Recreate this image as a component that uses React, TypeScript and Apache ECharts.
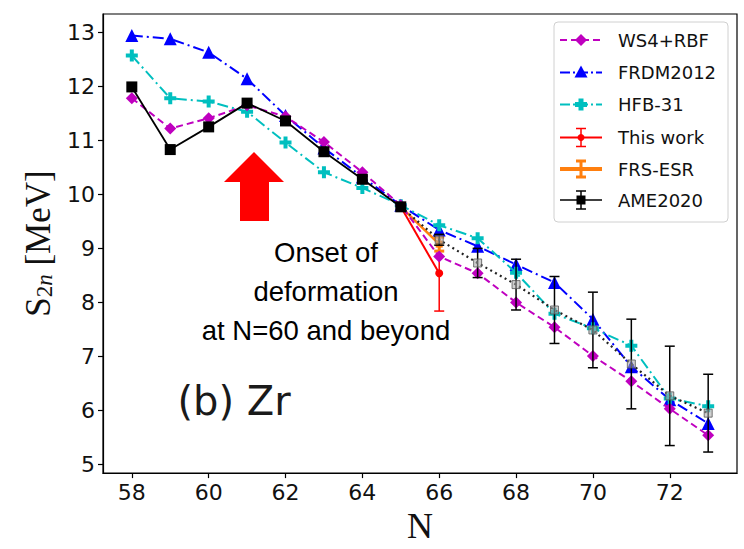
import React, { useEffect, useRef } from "react";
import * as echarts from "echarts";

// Neutron number
const N = [58, 59, 60, 61, 62, 63, 64, 65, 66, 67, 68, 69, 70, 71, 72, 73];
// Theory predictions (MeV)
const ws4 = [11.78, 11.22, 11.41, 11.65, 11.44, 10.97, 10.41, 9.8, 8.85, 8.54, 8.0, 7.54, 7.01, 6.54, 6.03, 5.54];
const frdm = [12.94, 12.88, 12.63, 12.14, 11.46, 10.86, 10.32, 9.8, 9.34, 9.04, 8.7, 8.37, 7.69, 6.81, 6.2, 5.76];
const hfb = [12.57, 11.78, 11.72, 11.53, 10.96, 10.41, 10.12, 9.8, 9.43, 9.19, 8.55, 7.79, 7.52, 7.2, 6.22, 6.08];
// AME2020 measured
const ameN = [58, 59, 60, 61, 62, 63, 64, 65];
const ame = [11.99, 10.83, 11.25, 11.69, 11.36, 10.79, 10.28, 9.77];
// AME2020 extrapolated
const ameExN = [65, 66, 67, 68, 69, 70, 71, 72, 73];
const ameEx = [9.77, 9.16, 8.73, 8.33, 7.86, 7.49, 6.86, 6.27, 5.95];
const ameExErr = [0, 0.1, 0.27, 0.47, 0.62, 0.7, 0.83, 0.92, 0.72];
// This work
const thisN = [65, 66];
const thisVal = [9.77, 8.54];
const thisErr = [0, 0.7];
// FRS-ESR
const frsN = [65, 66];
const frsVal = [9.77, 9.08];
const frsErr = [0, 0.13];

const xTicks = [58, 60, 62, 64, 66, 68, 70, 72];
const yTicks = [5, 6, 7, 8, 9, 10, 11, 12, 13];

const MAG = "#bf00bf";
const BLUE = "#0000ff";
const CYAN = "#00bfbf";
const RED = "#ff0000";
const ORANGE = "#ff7f0e";
const PLUS = "path://M1,0H2V1H3V2H2V3H1V2H0V1H1Z";

function pairs(xs: number[], ys: number[]) {
  return xs.map((x, i) => [x, ys[i]]);
}

function errSeries(xs: number[], ys: number[], es: number[], color: string, lw: number, capW: number, z: number) {
  return {
    type: "custom",
    z,
    silent: true,
    data: xs.map((x, i) => [x, ys[i], es[i]]),
    encode: { x: 0, y: 1 },
    renderItem: (params: any, api: any) => {
      const x = api.value(0);
      const y = api.value(1);
      const e = api.value(2);
      if (!e) return { type: "group", children: [] };
      const t = api.coord([x, y + e]);
      const b = api.coord([x, y - e]);
      const st = { stroke: color, lineWidth: lw };
      return {
        type: "group",
        children: [
          { type: "line", shape: { x1: t[0], y1: t[1], x2: b[0], y2: b[1] }, style: st },
          { type: "line", shape: { x1: t[0] - capW / 2, y1: t[1], x2: t[0] + capW / 2, y2: t[1] }, style: st },
          { type: "line", shape: { x1: b[0] - capW / 2, y1: b[1], x2: b[0] + capW / 2, y2: b[1] }, style: st },
        ],
      };
    },
  };
}

function legendGraphics() {
  const x0 = 560, x1 = 602, xm = 581, tx = 618;
  const rows = [40, 72.5, 104.5, 137.5, 169, 200];
  const labels = ["WS4+RBF", "FRDM2012", "HFB-31", "This work", "FRS-ESR", "AME2020"];
  const els: any[] = [
    {
      type: "rect",
      shape: { x: 554, y: 22, width: 174, height: 200, r: 4 },
      style: { fill: "rgba(255,255,255,0.85)", stroke: "#d0d0d0", lineWidth: 1 },
    },
  ];
  const line = (y: number, color: string, dash: any, w = 2) => ({
    type: "line",
    shape: { x1: x0, y1: y, x2: x1, y2: y },
    style: { stroke: color, lineWidth: w, lineDash: dash },
  });
  const ebar = (y: number, color: string, h: number, w: number, cw: number) => [
    { type: "line", shape: { x1: xm, y1: y - h, x2: xm, y2: y + h }, style: { stroke: color, lineWidth: w } },
    { type: "line", shape: { x1: xm - cw / 2, y1: y - h, x2: xm + cw / 2, y2: y - h }, style: { stroke: color, lineWidth: w } },
    { type: "line", shape: { x1: xm - cw / 2, y1: y + h, x2: xm + cw / 2, y2: y + h }, style: { stroke: color, lineWidth: w } },
  ];
  // WS4
  let y = rows[0];
  els.push(line(y, MAG, [7, 4]));
  els.push({ type: "polygon", shape: { points: [[xm, y - 6], [xm + 6, y], [xm, y + 6], [xm - 6, y]] }, style: { fill: MAG } });
  // FRDM
  y = rows[1];
  els.push(line(y, BLUE, [10, 3, 2, 3]));
  els.push({ type: "polygon", shape: { points: [[xm, y - 7], [xm + 6.5, y + 5], [xm - 6.5, y + 5]] }, style: { fill: BLUE } });
  // HFB
  y = rows[2];
  els.push(line(y, CYAN, [10, 3, 2, 3]));
  els.push({
    type: "polygon",
    shape: { points: [[xm - 2.5, y - 6], [xm + 2.5, y - 6], [xm + 2.5, y - 2.5], [xm + 6, y - 2.5], [xm + 6, y + 2.5], [xm + 2.5, y + 2.5], [xm + 2.5, y + 6], [xm - 2.5, y + 6], [xm - 2.5, y + 2.5], [xm - 6, y + 2.5], [xm - 6, y - 2.5], [xm - 2.5, y - 2.5]] },
    style: { fill: CYAN },
  });
  // This work
  y = rows[3];
  els.push(line(y, RED, null));
  els.push(...ebar(y, RED, 9, 1.5, 10));
  els.push({ type: "circle", shape: { cx: xm, cy: y, r: 3.5 }, style: { fill: RED } });
  // FRS
  y = rows[4];
  els.push(line(y, ORANGE, null, 4));
  els.push(...ebar(y, ORANGE, 8, 3, 10));
  // AME
  y = rows[5];
  els.push(line(y, "#000", null, 1.5));
  els.push(...ebar(y, "#000", 9, 1.5, 10));
  els.push({ type: "rect", shape: { x: xm - 4.5, y: y - 4.5, width: 9, height: 9 }, style: { fill: "#000" } });

  labels.forEach((t, i) => {
    els.push({
      type: "text",
      x: tx,
      y: rows[i],
      style: { text: t, fontFamily: "DejaVu Sans", fontSize: 18, fill: "#111", verticalAlign: "middle", align: "left" },
    });
  });
  return els;
}

export default function App() {
  const ref = useRef<HTMLDivElement>(null);
  useEffect(() => {
    document.body.style.margin = "0";
    const chart = echarts.init(ref.current!, null, { renderer: "svg" });
    const option: any = {
      animation: false,
      backgroundColor: "#fff",
      grid: {
        left: 103,
        right: 7,
        top: 14,
        bottom: 72,
        show: true,
        borderColor: "#000",
        borderWidth: 1.2,
        backgroundColor: "transparent",
      },
      xAxis: {
        type: "value",
        min: 57.25,
        max: 73.75,
        name: "N",
        nameLocation: "middle",
        nameGap: 32,
        nameTextStyle: { fontFamily: "Liberation Serif", fontSize: 36, color: "#111" },
        axisLine: { show: true, onZero: false, lineStyle: { color: "#000", width: 1.2 } },
        axisTick: { show: true, inside: false, length: 5, customValues: xTicks, lineStyle: { color: "#000", width: 1.2 } },
        axisLabel: { customValues: xTicks, fontFamily: "DejaVu Sans", fontSize: 22, color: "#111", margin: 8 },
        splitLine: { show: false },
      },
      yAxis: {
        type: "value",
        min: 4.84,
        max: 13.34,
        name: "{a|S}{b|2}{c|n}{a| [MeV]}",
        nameLocation: "middle",
        nameRotate: 90,
        nameGap: 46,
        nameTextStyle: {
          rich: {
            a: { fontFamily: "Liberation Serif", fontSize: 35, color: "#111" },
            b: { fontFamily: "Liberation Serif", fontSize: 23, color: "#111", padding: [13, 0, 0, 0] },
            c: { fontFamily: "Liberation Serif", fontSize: 23, fontStyle: "italic", color: "#111", padding: [13, 0, 0, 0] },
          },
        },
        axisLine: { show: true, onZero: false, lineStyle: { color: "#000", width: 1.2 } },
        axisTick: { show: true, inside: false, length: 5, customValues: yTicks, lineStyle: { color: "#000", width: 1.2 } },
        axisLabel: { customValues: yTicks, fontFamily: "DejaVu Sans", fontSize: 22, color: "#111", margin: 8 },
        splitLine: { show: false },
      },
      series: [
        {
          name: "This work",
          type: "line",
          z: 3,
          data: pairs(thisN, thisVal),
          symbol: "circle",
          symbolSize: 8,
          itemStyle: { color: RED },
          lineStyle: { color: RED, width: 2 },
        },
        errSeries(thisN, thisVal, thisErr, RED, 1.5, 10, 3),
        {
          name: "FRS-ESR",
          type: "line",
          z: 4,
          data: pairs(frsN, frsVal),
          symbol: "rect",
          symbolSize: 7,
          itemStyle: { color: ORANGE },
          lineStyle: { color: ORANGE, width: 2.5 },
        },
        errSeries(frsN, frsVal, frsErr, ORANGE, 3, 10, 4),
        {
          name: "FRDM2012",
          type: "line",
          z: 5,
          data: pairs(N, frdm),
          symbol: "triangle",
          symbolSize: 13,
          itemStyle: { color: BLUE },
          lineStyle: { color: BLUE, width: 2, type: [11, 4, 2, 4] },
        },
        {
          name: "HFB-31",
          type: "line",
          z: 6,
          data: pairs(N, hfb),
          symbol: PLUS,
          symbolSize: 12,
          itemStyle: { color: CYAN },
          lineStyle: { color: CYAN, width: 2, type: [11, 4, 2, 4] },
        },
        {
          name: "WS4+RBF",
          type: "line",
          z: 7,
          data: pairs(N, ws4),
          symbol: "diamond",
          symbolSize: 12,
          itemStyle: { color: MAG },
          lineStyle: { color: MAG, width: 2, type: [7, 4] },
        },
        {
          name: "AME2020 extrapolated",
          type: "line",
          z: 8,
          data: pairs(ameExN, ameEx),
          symbol: "rect",
          symbolSize: 8,
          itemStyle: { color: "rgba(170,170,170,0.55)", borderColor: "#555", borderWidth: 0.8 },
          lineStyle: { color: "#222", width: 2.2, type: [2, 3.5] },
        },
        errSeries(ameExN, ameEx, ameExErr, "#000", 1.5, 10, 8),
        {
          name: "AME2020",
          type: "line",
          z: 9,
          data: pairs(ameN, ame),
          symbol: "rect",
          symbolSize: 11,
          itemStyle: { color: "#000" },
          lineStyle: { color: "#000", width: 1.8 },
        },
      ],
      graphic: [
        {
          type: "polygon",
          shape: { points: [[254, 152], [284, 182], [269, 182], [269, 221], [240, 221], [240, 182], [224, 182]] },
          style: { fill: "#ff0000" },
          z: 20,
        },
        {
          type: "text",
          x: 326,
          y: 252,
          style: { text: "Onset of", fontFamily: "Liberation Sans", fontSize: 27.5, fill: "#000", align: "center", verticalAlign: "middle" },
          z: 20,
        },
        {
          type: "text",
          x: 326,
          y: 291,
          style: { text: "deformation", fontFamily: "Liberation Sans", fontSize: 27.5, fill: "#000", align: "center", verticalAlign: "middle" },
          z: 20,
        },
        {
          type: "text",
          x: 326,
          y: 330,
          style: { text: "at N=60 and beyond", fontFamily: "Liberation Sans", fontSize: 27.5, fill: "#000", align: "center", verticalAlign: "middle" },
          z: 20,
        },
        {
          type: "text",
          x: 234,
          y: 401,
          style: { text: "(b) Zr", fontFamily: "DejaVu Sans", fontSize: 40, fill: "#1a1a1a", align: "center", verticalAlign: "middle" },
          z: 20,
        },
        { type: "group", z: 30, children: legendGraphics() },
      ],
    };
    chart.setOption(option);
    return () => chart.dispose();
  }, []);
  return <div ref={ref} style={{ width: 744, height: 549 }} />;
}
